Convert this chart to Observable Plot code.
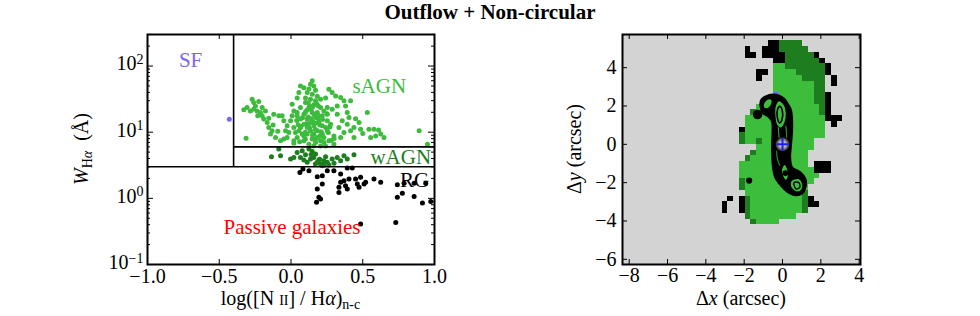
<!DOCTYPE html>
<html><head><meta charset="utf-8">
<script src="https://cdn.jsdelivr.net/npm/d3@7"></script>
<script src="https://cdn.jsdelivr.net/npm/@observablehq/plot@0.6"></script>
<style>
body{margin:0;background:#fff;}
#wrap{position:relative;width:980px;height:316px;overflow:hidden;font-family:"Liberation Serif",serif;}
#title{position:absolute;left:0;top:0px;width:980px;text-align:center;font-weight:bold;font-size:21px;line-height:24px;}
#left{position:absolute;left:0;top:0;}
#right{position:absolute;left:490px;top:0;}
</style></head><body>
<div id="wrap"><div id="title">Outflow + Non-circular</div><div id="left"></div><div id="right"></div></div>
<script>
// ---------- Left panel data (WHAN diagram) ----------
const sfX = [-0.43];
const sfW = [15.7];
const sagnX = [0.148,0.136,0.159,0.125,0.171,0.066,0.090,0.113,0.148,0.183,0.055,0.043,0.101,0.136,0.171,0.206,0.241,
 -0.329,-0.306,-0.271,-0.260,-0.248,-0.225,-0.236,-0.213,-0.201,-0.190,-0.166,-0.155,-0.132,-0.143,-0.108,-0.073,-0.050,-0.027,-0.283,-0.313,-0.260,-0.232,-0.201,-0.120,-0.085,-0.062,-0.178,-0.155,-0.125,-0.092,
 0.008,0.020,0.043,0.066,0.090,0.113,0.136,0.159,0.183,0.206,-0.003,0.020,0.055,0.078,0.043,0.020,0.090,0.125,0.159,0.218,0.241,0.194,0.171,0.148,0.125,0.101,0.066,0.043,0.090,0.113,0.066,0.218,0.229,0.253,0.206,0.183,0.253,0.218,0.183,0.229,0.264,0.299,-0.027,-0.038,-0.015,-0.050,0.008,0.031,0.113,0.148,0.171,0.136,0.159,0.206,0.241,
 0.10,0.12,0.14,0.16,0.18,0.15,0.12,0.17,0.20,0.13,0.11,0.19,0.08,0.05,0.15,0.20,0.09,0.17,0.23,0.26,0.27,0.30,0.25,0.19,0.12,0.16,0.14,0.10,0.06,0.02,0.28,
 0.264,0.287,0.311,0.346,0.369,0.415,0.380,0.322,0.287,0.253,0.322,0.357,0.392,0.439,0.485,0.543,0.578,0.590,0.555,0.625,0.648,0.474,0.415,0.369,0.346,0.299,0.439,0.893,0.951,0.532,0.392,0.404,0.334,0.253,0.276,
 0.13,0.17,0.21,0.07,0.11,0.15,0.19,0.04,0.22,0.10,0.50,0.61,0.45];
const sagnW = [60,53,50,45,43,50,47,40,37.5,35,40,33,33,31.5,30,31.5,33,
 21.8,23.6,31.5,28.1,25,29.1,21,19.9,17.7,15.8,14,11.8,10.5,9.4,8.3,7.4,7.9,8.3,21,8.1,22.3,17.7,23.6,18.7,17.7,17.7,21,16.3,12.9,10.3,
 26.5,21,17.7,15.8,13.2,11.8,10.5,9.4,8.3,7.4,14.9,11.8,10.5,9.4,8.3,7.4,7.4,6.6,6.2,9.4,11.8,14,16.7,19.9,23.6,28.1,23.6,19.9,18.7,15.8,11.8,17.7,21,23.6,23.6,19.9,14.9,12.5,10.5,8.3,7.4,6.6,12.5,10.5,9.9,14.9,17.7,9.9,9.4,7.9,7.0,14,12.5,6.2,6.2,
 20,17,22,26,27,14.5,12.5,11,12.8,25,13.5,16,16.5,13,9,8.8,8.8,7.8,7.0,9.9,12,8,19,25,28,18.5,16,10,7.2,6.8,7.5,
 44.6,39.7,35.4,33.4,29.8,29.8,25,25,22.3,18.7,18.7,14.9,13.2,11.8,11.1,11.1,11.1,8.8,8.3,9.4,8.3,14,10.5,9.9,8.3,8.8,8.3,10.5,6.6,19.9,19.9,16.7,11.8,10.5,13.2,
 11.5,13.8,10.2,12.2,21.5,24,18,15,15.5,7.9,9.6,10.8,16];
const wagnX = [-0.136,-0.073,-0.085,-0.003,0.020,0.078,0.101,0.136,0.159,0.183,0.206,0.229,0.253,0.218,0.171,0.113,0.287,0.322,0.369,0.346,0.392,0.439,0.066,0.043,0.241,0.148,0.125,0.194,0.264,0.17,0.20,0.23,0.14,0.09,0.30];
const wagnW = [4.26,4.41,5.55,3.93,4.16,5.24,4.56,3.93,4.16,3.50,3.30,3.71,3.50,3.11,4.67,3.50,3.93,4.16,4.41,3.71,3.93,4.56,4.16,4.95,4.26,5.1,5.55,3.79,3.19,3.3,3.9,3.2,4.6,3.8,3.4];
const rgX = [0.083,0.125,0.062,0.183,0.218,0.253,0.299,0.346,0.392,0.427,0.218,0.183,0.346,0.369,0.404,0.450,0.485,0.520,0.578,0.625,0.334,0.380,0.392,0.474,0.462,0.509,0.334,0.194,0.178,0.206,0.741,0.788,0.858,0.939,0.741,0.776,0.858,0.916,0.974,0.730,0.485];
const rgW = [2.77,2.62,2.47,2.12,2.20,2.62,2.62,2.33,2.87,2.87,1.65,1.38,1.75,1.85,1.96,1.96,2.08,1.75,1.96,1.75,1.47,1.55,1.38,1.47,1.65,1.65,1.23,1.04,0.87,0.98,1.61,1.69,1.69,1.69,1.04,1.19,1.07,0.85,0.90,0.43,0.41];
const regionLabels = ["SF", "sAGN", "wAGN", "RG", "Passive galaxies"];
const regionX = [-0.70, 0.615, 0.765, 0.862, 0.007];
const regionW = [121, 49, 4.18, 1.85, 0.368];
const regionColors = ["#7b68ee", "#3cbb3c", "#1e7d1e", "#000000", "#ff0000"];
const xTicks = [-1.0, -0.5, 0.0, 0.5, 1.0];
const yTicks = [0.1, 1, 10, 100];
const yMinorTicks = [0.2,0.3,0.4,0.5,0.6,0.7,0.8,0.9,2,3,4,5,6,7,8,9,20,30,40,50,60,70,80,90,200,300];

// ---------- Right panel data (spaxel map) ----------
// one character per 0.3" spaxel: g = sAGN, d = wAGN, k = RG, p = SF, . = none
const mapRows = [
 ".........kkdddd.........",
 ".....k..kkkddddd........",
 ".....kk.kkkkdddddk......",
 "..........kkddddddk.....",
 "..........ggdddddddk....",
 ".......kk.ggggdddddk....",
 ".......k..gggggdddd.k...",
 "..........gggggggdd.k...",
 "..........gggggggdd.....",
 "..........pggggggddk....",
 "..........gggggggddk....",
 ".......gggggggggggdk....",
 "......dgggggggggggdk....",
 ".....ggggggggggggggkkk..",
 ".....gggggggggggggg.k...",
 "....kgggggggggggggg.....",
 "....dgggggggggggggg.....",
 "....dggdggggggggg.......",
 ".......gggggggggg.......",
 "......dggggggggg........",
 ".....dgggggggggg........",
 "....gggggggggggg.kkk....",
 "....gggggggggggggkkk....",
 "....gggggggggggggg......",
 "....dgggggggggggg.......",
 "....dggggggggggg........",
 ".....ggggggggggd........",
 "..k.kdgggggggggdk.......",
 ".k..kdgggggggggdkk......",
 ".k..kdgggggggggd........",
 ".....dgggggggg..........",
 "......dgggg............."
];
const spaxel = 0.3, mapX0 = -3.3, mapY0 = 5.25;
const classColors = {g: "#3cbd3c", d: "#1e7d1e", k: "#000000", p: "#7b68ee"};
const contourOuter = [[-0.87,2.50],[-0.52,2.60],[-0.17,2.54],[0.09,2.38],[0.30,2.07],[0.45,1.76],[0.50,1.29],[0.50,0.68],[0.46,0.16],[0.43,-0.19],[0.40,-0.68],[0.50,-1.20],[0.93,-1.46],[1.20,-1.81],[1.20,-2.24],[1.02,-2.57],[0.70,-2.66],[0.26,-2.48],[-0.09,-2.14],[-0.38,-1.72],[-0.50,-1.20],[-0.54,-0.50],[-0.54,0.02],[-0.52,0.77],[-0.55,1.20],[-0.76,1.46],[-1.02,1.63],[-1.15,1.98],[-1.11,2.33]];
const holeUpper = [[-0.2,2.28],[0.08,2.08],[0.2,1.65],[0.12,1.1],[-0.08,0.85],[-0.3,1.0],[-0.4,1.5],[-0.38,2.0]];
const ringUpper = [[-0.14,1.98],[0.0,1.7],[-0.04,1.25],[-0.15,1.12],[-0.27,1.4],[-0.26,1.82]];
const holeLeft = [[-0.95,2.2],[-0.7,2.38],[-0.55,2.3],[-0.62,2.0],[-0.85,1.85],[-1.0,1.95]];
const holeLower = [[0.1,-1.05],[0.27,-1.3],[0.3,-1.7],[0.18,-1.88],[0.0,-1.65],[-0.05,-1.3]];
const holeTail = [[0.45,-1.9],[0.82,-1.78],[1.05,-2.05],[0.98,-2.4],[0.7,-2.48],[0.42,-2.2]];
const ringTail = [[0.6,-2.0],[0.85,-2.0],[0.9,-2.25],[0.7,-2.32]];
const strandA = [[-0.22,0.9],[-0.2,0.6],[-0.18,0.35]];
const strandB = [[0.18,0.95],[0.2,0.65],[0.22,0.35]];
const strandC = [[-0.3,-0.35],[-0.28,-0.7],[-0.15,-1.1]];
const blobDots = [[-1.30,1.55,3.5],[-1.74,-1.89,1.5],[0.15,-1.5,1.3]];
const nucleus = [[0, 0]];
const mapXTicks = [-8,-6,-4,-2,0,2,4];
const mapYTicks = [-6,-4,-2,0,2,4];

// ---------- Layout ----------
const H = 316, mT = 34, mB = 52, frameH = H - mT - mB;
const lW = 470, lML = 147, lMR = 36, lFW = lW - lML - lMR;
const rW = 490, rML = 132, rMR = 120, rFW = rW - rML - rMR;
const fontStyle = {fontFamily: "Liberation Serif, serif", fontSize: "20px", background: "transparent", overflow: "visible", color: "black"};
const tick = () => ({stroke: "black", strokeWidth: 1});
const green = "#3cbd3c";

const left = Plot.plot({
  width: lW, height: H, marginLeft: lML, marginRight: lMR, marginTop: mT, marginBottom: mB,
  style: fontStyle,
  x: {domain: [-1, 1], label: null},
  y: {type: "log", domain: [0.1, 300], label: null},
  color: {type: "identity"},
  marks: [
    Plot.dot(rgX, {x: rgX, y: rgW, r: 2.5, fill: "black"}),
    Plot.dot(sagnX, {x: sagnX, y: sagnW, r: 2.5, fill: "#3cbb3c"}),
    Plot.dot(wagnX, {x: wagnX, y: wagnW, r: 2.5, fill: "#1e7d1e"}),
    Plot.dot(sfX, {x: sfX, y: sfW, r: 2.5, fill: "#7b68ee"}),
    Plot.ruleX([-0.4], {y1: 3, y2: 300, stroke: "black", strokeWidth: 1.6}),
    Plot.ruleY([3], {stroke: "black", strokeWidth: 1.6}),
    Plot.ruleY([6], {x1: -0.4, x2: 1, stroke: "black", strokeWidth: 1.6}),
    Plot.text(regionLabels, {x: regionX, y: regionW, text: regionLabels, fill: regionColors, fontSize: 21}),
    Plot.tickX(xTicks, {x: d => d, insetTop: frameH - 5, ...tick()}),
    Plot.tickX(xTicks, {x: d => d, insetBottom: frameH - 5, ...tick()}),
    Plot.tickY(yTicks, {y: d => d, insetRight: lFW - 6, ...tick()}),
    Plot.tickY(yTicks, {y: d => d, insetLeft: lFW - 6, ...tick()}),
    Plot.tickY(yMinorTicks, {y: d => d, insetRight: lFW - 3, ...tick()}),
    Plot.tickY(yMinorTicks, {y: d => d, insetLeft: lFW - 3, ...tick()}),
    Plot.axisX(xTicks, {tickSize: 0, tickPadding: 4, tickFormat: d3.format(".1f"), label: null}),
    Plot.axisY(yTicks, {tickSize: 0, tickPadding: 4, dy: -2, tickFormat: d => "10|" + Math.round(Math.log10(d)), label: null}),
    Plot.frame({stroke: "black", strokeWidth: 2})
  ]
});

const cells = [];
mapRows.forEach((row, r) => Array.from(row).forEach((ch, c) => {
  if (ch !== ".") cells.push({x: mapX0 + c * spaxel, y: mapY0 - r * spaxel, cls: ch});
}));
const lineOpts = {x: d => d[0], y: d => d[1], curve: "catmull-rom-closed"};
const openOpts = {x: d => d[0], y: d => d[1], curve: "catmull-rom"};

const right = Plot.plot({
  width: rW, height: H, marginLeft: rML, marginRight: rMR, marginTop: mT, marginBottom: mB,
  style: fontStyle,
  x: {domain: [-8.35, 4.07], label: null},
  y: {domain: [-6.27, 5.73], label: null},
  color: {type: "identity"},
  marks: [
    Plot.frame({fill: "#d3d3d3"}),
    Plot.rect(cells, {x1: d => d.x - spaxel / 2, x2: d => d.x + spaxel / 2, y1: d => d.y - spaxel / 2, y2: d => d.y + spaxel / 2,
      fill: d => classColors[d.cls], shapeRendering: "crispEdges"}),
    Plot.line(contourOuter, {...lineOpts, fill: "black", stroke: "black", strokeWidth: 2}),
    Plot.line(holeUpper, {...lineOpts, fill: green, stroke: "black", strokeWidth: 1.2}),
    Plot.line(ringUpper, {...lineOpts, stroke: "black", strokeWidth: 1.6}),
    Plot.line(holeLeft, {...lineOpts, fill: green, stroke: "black", strokeWidth: 1.2}),
    Plot.line(holeLower, {...lineOpts, fill: green, stroke: "black", strokeWidth: 1.2}),
    Plot.line(holeTail, {...lineOpts, fill: green, stroke: "black", strokeWidth: 1.2}),
    Plot.line(ringTail, {...lineOpts, stroke: "black", strokeWidth: 1.4}),
    Plot.line(strandA, {...openOpts, stroke: green, strokeWidth: 1}),
    Plot.line(strandB, {...openOpts, stroke: green, strokeWidth: 1}),
    Plot.line(strandC, {...openOpts, stroke: green, strokeWidth: 1}),
    Plot.dot(blobDots, {x: d => d[0], y: d => d[1], r: d => d[2], fill: "black"}),
    Plot.dot(nucleus, {x: d => d[0], y: d => d[1], r: 7, fill: "url(#glow)"}),
    Plot.dot(nucleus, {x: d => d[0], y: d => d[1], r: 4, symbol: "plus", stroke: "#1a1aff", strokeWidth: 2}),
    Plot.tickX(mapXTicks, {x: d => d, insetTop: frameH - 5, ...tick()}),
    Plot.tickX(mapXTicks, {x: d => d, insetBottom: frameH - 5, ...tick()}),
    Plot.tickY(mapYTicks, {y: d => d, insetRight: rFW - 5, ...tick()}),
    Plot.tickY(mapYTicks, {y: d => d, insetLeft: rFW - 5, ...tick()}),
    Plot.axisX(mapXTicks, {tickSize: 0, tickPadding: 3, tickFormat: d3.format("d"), label: null}),
    Plot.axisY(mapYTicks, {tickSize: 0, tickPadding: 6, tickFormat: d3.format("d"), label: null}),
    Plot.frame({stroke: "black", strokeWidth: 2})
  ]
});

document.getElementById("left").appendChild(left);
document.getElementById("right").appendChild(right);

// superscript exponents on log tick labels
d3.select(left).selectAll('g[aria-label="y-axis tick label"] text').each(function() {
  const parts = this.textContent.split("|");
  if (parts.length !== 2) return;
  const s = d3.select(this); s.text(null);
  s.append("tspan").text(parts[0]);
  s.append("tspan").attr("dy", "-0.45em").attr("font-size", "0.7em").text(parts[1].replace("-", "\u2212"));
});

// gradient for the nucleus glow
const g = d3.select(right).insert("defs", ":first-child").append("radialGradient").attr("id", "glow");
g.append("stop").attr("offset", "0%").attr("stop-color", "#ffffff");
g.append("stop").attr("offset", "55%").attr("stop-color", "#a8a8a8");
g.append("stop").attr("offset", "100%").attr("stop-color", "#202020");

// axis titles
const L = d3.select(left);
const xl = L.append("text").attr("x", lML + lFW / 2).attr("y", 305).attr("text-anchor", "middle").attr("font-size", 20);
xl.append("tspan").text("log([N ");
xl.append("tspan").attr("font-size", 14).text("II");
xl.append("tspan").text("] / H");
xl.append("tspan").attr("font-style", "italic").text("α");
xl.append("tspan").text(")");
xl.append("tspan").attr("font-size", 14).attr("dy", 4).text("n-c");
const yl = L.append("text").attr("transform", `translate(88,${mT + frameH / 2}) rotate(-90)`).attr("text-anchor", "middle").attr("font-size", 20);
yl.append("tspan").attr("font-style", "italic").text("W");
yl.append("tspan").attr("font-size", 14).attr("dy", 4).text("H");
yl.append("tspan").attr("font-size", 14).attr("font-style", "italic").text("α");
yl.append("tspan").attr("dy", -4).text("\u2002(Å)");

const R = d3.select(right);
const rxl = R.append("text").attr("x", rML + rFW / 2).attr("y", 305).attr("text-anchor", "middle").attr("font-size", 20);
rxl.append("tspan").text("Δ");
rxl.append("tspan").attr("font-style", "italic").text("x");
rxl.append("tspan").text(" (arcsec)");
const ryl = R.append("text").attr("transform", `translate(91,${mT + frameH / 2}) rotate(-90)`).attr("text-anchor", "middle").attr("font-size", 20);
ryl.append("tspan").text("Δ");
ryl.append("tspan").attr("font-style", "italic").text("y");
ryl.append("tspan").text(" (arcsec)");
</script>
</body></html>
